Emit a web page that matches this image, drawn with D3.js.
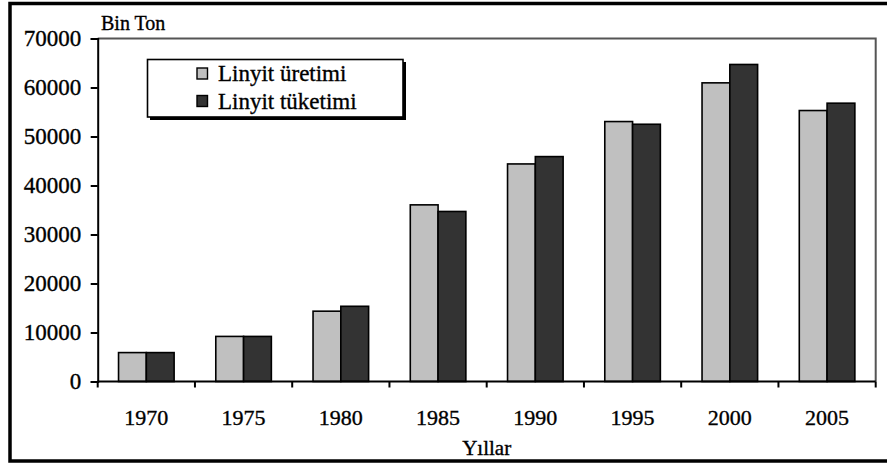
<!DOCTYPE html>
<html>
<head>
<meta charset="utf-8">
<script src="https://cdn.jsdelivr.net/npm/d3@7/dist/d3.min.js"></script>
<style>
  html, body { margin: 0; padding: 0; background: #fff; }
  svg { display: block; }
</style>
</head>
<body>
<svg id="chart" width="887" height="464"></svg>
<script>
const years = ["1970", "1975", "1980", "1985", "1990", "1995", "2000", "2005"];
const seriesNames = ["Linyit üretimi", "Linyit tüketimi"];
const uretim = [5900, 9200, 14350, 36050, 44400, 53050, 60950, 55300];
const tuketim = [5900, 9200, 15350, 34700, 45900, 52500, 64700, 56800];
const seriesColors = ["#c0c0c0", "#333333"];
const yTicks = [0, 10000, 20000, 30000, 40000, 50000, 60000, 70000];
const yTitle = "Bin Ton";
const xTitle = "Yıllar";

const FONT = "Liberation Serif";
const svg = d3.select("#chart").attr("font-family", FONT);

function styleText(sel, size) {
  sel.attr("font-family", FONT).attr("font-size", size).attr("fill", "#000")
     .attr("stroke", "#000").attr("stroke-width", 0.35);
  return sel;
}

// outer frame
svg.append("rect")
  .attr("x", 10).attr("y", 3.5)
  .attr("width", 900).attr("height", 457.5)
  .attr("fill", "none").attr("stroke", "#000").attr("stroke-width", 3.5);

const pLeft = 97.7, pRight = 875.7, pTop = 38.5, pBottom = 381.5;

const x0 = d3.scaleBand().domain(years).range([pLeft, pRight]).padding(0);
const bw = x0.bandwidth();
const barW = bw / 3.5;
const x1 = d3.scaleBand().domain([0, 1]).range([0.75 * barW, 2.75 * barW]).padding(0);
const y = d3.scaleLinear().domain([0, 70000]).range([pBottom, pTop]);

// plot area border (top & right)
svg.append("path")
  .attr("d", `M${pLeft},${pTop}H${pRight}V${pBottom}`)
  .attr("fill", "none").attr("stroke", "#555").attr("stroke-width", 2);

// bars
const data = years.map((yr, i) => ({ year: yr, vals: [uretim[i], tuketim[i]] }));
const groups = svg.append("g").selectAll("g").data(data).join("g")
  .attr("transform", d => `translate(${x0(d.year)},0)`);
groups.selectAll("rect").data(d => d.vals.map((v, k) => ({ v, k }))).join("rect")
  .attr("x", d => x1(d.k))
  .attr("width", x1.bandwidth())
  .attr("y", d => y(d.v))
  .attr("height", d => y(0) - y(d.v))
  .attr("fill", d => seriesColors[d.k])
  .attr("stroke", "#000").attr("stroke-width", 1.6);

// y axis
const yAxis = svg.append("g").attr("transform", `translate(${pLeft},0)`)
  .call(d3.axisLeft(y).tickValues(yTicks).tickFormat(d3.format("d")).tickSize(7).tickPadding(9.5));
yAxis.attr("font-family", FONT);
yAxis.select(".domain").attr("stroke", "#000").attr("stroke-width", 2);
yAxis.selectAll(".tick line").attr("stroke", "#000").attr("stroke-width", 2);
styleText(yAxis.selectAll(".tick text"), 23);

// x axis
const xAxis = svg.append("g").attr("transform", `translate(0,${pBottom})`)
  .call(d3.axisBottom(x0).tickSize(0).tickPadding(28));
xAxis.attr("font-family", FONT);
xAxis.select(".domain").remove();
svg.append("line").attr("x1", pLeft).attr("x2", pRight).attr("y1", pBottom).attr("y2", pBottom)
  .attr("stroke", "#000").attr("stroke-width", 2);
styleText(xAxis.selectAll(".tick text"), 22);
// boundary ticks between categories
const bounds = years.map(yr => x0(yr)).concat([pRight]);
svg.append("g").selectAll("line").data(bounds).join("line")
  .attr("x1", d => d).attr("x2", d => d)
  .attr("y1", pBottom).attr("y2", pBottom + 6)
  .attr("stroke", "#000").attr("stroke-width", 2);

// titles
styleText(svg.append("text").attr("x", 101).attr("y", 30).text(yTitle), 20);
styleText(svg.append("text").attr("x", (pLeft + pRight) / 2).attr("y", 455)
  .attr("text-anchor", "middle").text(xTitle), 21);

// legend
const lg = svg.append("g");
lg.append("rect").attr("x", 150).attr("y", 62).attr("width", 256).attr("height", 58).attr("fill", "#000");
lg.append("rect").attr("x", 147.5).attr("y", 59.5).attr("width", 255.5).attr("height", 57.5)
  .attr("fill", "#fff").attr("stroke", "#000").attr("stroke-width", 1.6);
seriesNames.forEach((name, i) => {
  const yy = 74 + i * 27.5;
  lg.append("rect").attr("x", 197).attr("y", yy - 6).attr("width", 10.5).attr("height", 11)
    .attr("fill", seriesColors[i]).attr("stroke", "#000").attr("stroke-width", 1.4);
  styleText(lg.append("text").attr("x", 218).attr("y", yy + 7).text(name), 23);
});
</script>
</body>
</html>
